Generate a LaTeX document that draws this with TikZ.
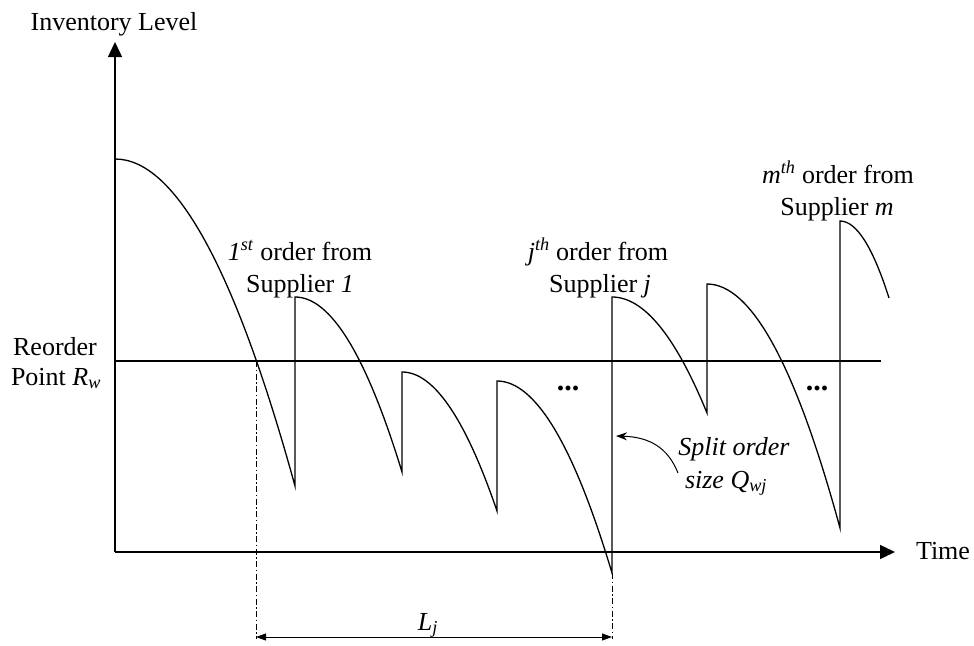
\documentclass[tikz,border=0pt]{standalone}
\usepackage{fontspec}
\setmainfont{Liberation Serif}
\usetikzlibrary{arrows.meta}

\tikzset{
  axis/.style={line width=1.4pt, -{Triangle[length=15pt,width=14pt]}},
  stock/.style={line width=1.3pt, line join=miter},
  lead/.style={line width=1pt, dash pattern=on 6pt off 2.5pt on 1.5pt off 2.5pt},
  lbl/.style={font=\fontsize{26}{31}\selectfont, anchor=base, inner sep=0pt},
  more/.style={font=\fontsize{30}{31}\selectfont\bfseries, anchor=base, inner sep=0pt},
}

\begin{document}
\begin{tikzpicture}[x=1pt,y=-1pt]
\useasboundingbox (0,0) rectangle (974,645);

% axes
\coordinate (O) at (115,552);
\draw[axis] (O) -- (895,552);
\draw[axis] (O) -- (115,42);
\node[lbl] (ylab) at (114,30) {Inventory Level};
\node[lbl] (xlab) at (943,559) {Time};

% reorder point
\draw[stock] (115,361) -- (881,361);
\node[lbl] (rop1) at (55,355) {Reorder};
\node[lbl] (rop2) at (56,385) {Point \textit{R}\textsubscript{\textit{w}}};

% inventory level over time
\draw[stock] (115,159) .. controls (175,159) and (235,268) .. (295,486)
  -- (295,297) .. controls (330.7,297) and (366.3,355.3) .. (402,472)
  -- (402,372) .. controls (433.7,372) and (465.3,418.3) .. (497,511)
  -- (497,381) .. controls (535.3,381) and (573.7,445) .. (612,573)
  -- (612,297) .. controls (643.7,297) and (675.3,335.7) .. (707,413)
  -- (707,284) .. controls (751.3,284) and (795.7,365.3) .. (840,528)
  -- (840,221) .. controls (856.3,221) and (872.7,246.7) .. (889,298);

% order labels
\node[lbl] (ord1a) at (300,260) {\textit{1}\textsuperscript{\textit{st}} order from};
\node[lbl] (ord1b) at (300,292) {Supplier \textit{1}};
\node[lbl] (ordja) at (598,260) {\textit{j}\textsuperscript{\textit{th}} order from};
\node[lbl] (ordjb) at (600,292) {Supplier \textit{j}};
\node[lbl] (ordma) at (838,183) {\textit{m}\textsuperscript{\textit{th}} order from};
\node[lbl] (ordmb) at (837,215) {Supplier \textit{m}};
\node[more] (dots1) at (568,390) {...};
\node[more] (dots2) at (817,390) {...};

% split order size
\coordinate (qhead) at (616,436);
\coordinate (qtail) at (678,473);
\node[lbl] (split1) at (734,455) {\textit{Split order}};
\node[lbl] (split2) at (726,488) {\textit{size Q}\textsubscript{\textit{wj}}};
\draw[line width=1pt, -{Stealth[length=11pt,width=8pt]}]
  (qtail) .. controls (668,448) and (650,437) .. (qhead);

% lead time
\coordinate (r1) at (256,361);
\coordinate (rj) at (612,573);
\coordinate (b1) at (256,639);
\coordinate (bj) at (612,639);
\draw[lead] (r1) -- (b1);
\draw[lead] (rj) -- (bj);
\draw[line width=0.9pt, {Triangle[length=10pt,width=7pt]}-{Triangle[length=10pt,width=7pt]}]
  (256,637) -- (612,637);
\node[lbl] (lj) at (428,630) {\textit{L}\textsubscript{\textit{j}}};

\end{tikzpicture}
\end{document}
